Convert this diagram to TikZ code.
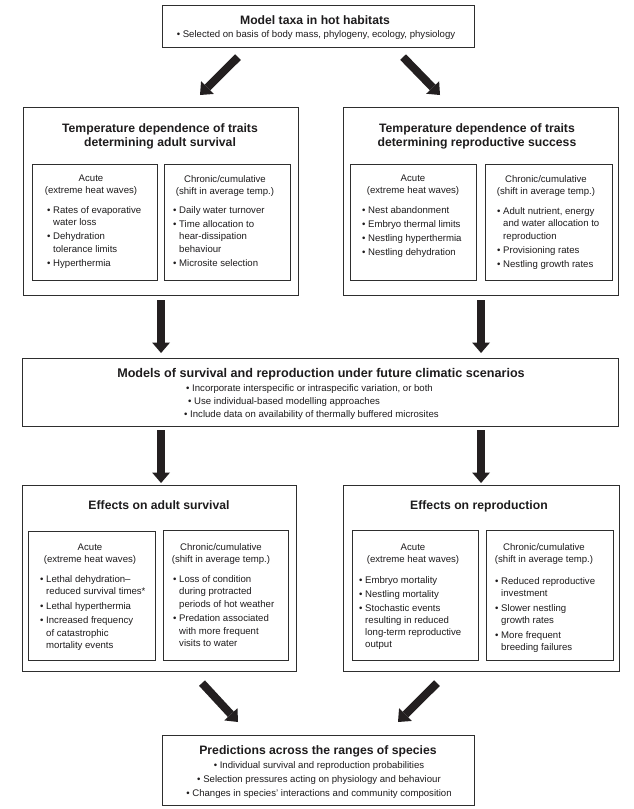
\documentclass[tikz,border=0pt]{standalone}
\usepackage{fontspec}
\setmainfont{Liberation Sans}
\usetikzlibrary{arrows.meta,calc}
\definecolor{boxc}{HTML}{2E2E2E}
\definecolor{arrc}{HTML}{231F20}
\definecolor{txtc}{HTML}{1E1C1D}
\newcommand{\mybul}{\textbullet\ }
\newcommand{\myind}{\hphantom{\textbullet\ }}
\begin{document}
\begin{tikzpicture}[x=1pt,y=-1pt,
  box/.style={draw=boxc, line width=1.1pt, inner sep=0pt, anchor=north west},
  ibox/.style={draw=boxc, line width=1pt, inner sep=0pt, anchor=north west},
  ttl/.style={inner sep=0pt, anchor=north, align=center, text=txtc, font=\bfseries\fontsize{12.2}{14}\selectfont},
  hd/.style={inner sep=0pt, anchor=north, align=center, text=txtc, font=\fontsize{9.6}{12}\selectfont},
  lst/.style={inner sep=0pt, anchor=north west, align=left, text=txtc, font=\fontsize{9.6}{12.5}\selectfont},
  big/.style={draw=arrc, line width=8pt, -{Triangle[length=10.5pt,width=18pt,line width=0pt]}},
]
\useasboundingbox (0,0) rectangle (634,809);
\fill[white] (0,0) rectangle (634,809);

% ---------- boxes ----------
\node[box, minimum width=312pt, minimum height=42pt] (top) at (162,5) {};
\node[box, minimum width=275pt, minimum height=188pt] (adultT) at (23,107) {};
\node[box, minimum width=275pt, minimum height=188pt] (reproT) at (343,107) {};
\node[ibox, minimum width=125pt, minimum height=116pt] (aTa) at (32,164) {};
\node[ibox, minimum width=126pt, minimum height=116pt] (aTc) at (164,164) {};
\node[ibox, minimum width=126pt, minimum height=116pt] (rTa) at (350,164) {};
\node[ibox, minimum width=127pt, minimum height=116pt] (rTc) at (485,164) {};
\node[box, minimum width=596pt, minimum height=68pt] (models) at (22,358) {};
\node[box, minimum width=274pt, minimum height=186pt] (adultE) at (22,485) {};
\node[box, minimum width=276pt, minimum height=186pt] (reproE) at (343,485) {};
\node[ibox, minimum width=127pt, minimum height=129pt] (aEa) at (28,531) {};
\node[ibox, minimum width=125pt, minimum height=130pt] (aEc) at (163,530) {};
\node[ibox, minimum width=126pt, minimum height=130pt] (rEa) at (352,530) {};
\node[ibox, minimum width=127pt, minimum height=130pt] (rEc) at (486,530) {};
\node[box, minimum width=312pt, minimum height=70pt] (pred) at (162,735) {};

% ---------- texts ----------
\node[ttl] (topT) at (315,15.3) {Model taxa in hot habitats};
\node[hd] (topL) at (316,30) {\mybul Selected on basis of body mass, phylogeny, ecology, physiology};

\node[ttl] (adultTT) at (160,123.3) {Temperature dependence of traits\\determining adult survival};
\node[hd] (aTaH) at (91,175) {Acute\\(extreme heat waves)};
\node[lst] (aTaL) at (47,206) {\mybul Rates of evaporative\\\myind water loss\\[1.5pt]\mybul Dehydration\\\myind tolerance limits\\[1.5pt]\mybul Hyperthermia};
\node[hd] (aTcH) at (225,175) {Chronic/cumulative\\(shift in average temp.)};
\node[lst] (aTcL) at (173,206) {\mybul Daily water turnover\\[1.5pt]\mybul Time allocation to\\\myind hear-dissipation\\\myind behaviour\\[2pt]\mybul Microsite selection};

\node[ttl] (reproTT) at (477,123.3) {Temperature dependence of traits\\determining reproductive success};
\node[hd] (rTaH) at (413,175) {Acute\\(extreme heat waves)};
\node[lst] (rTaL) at (362,206) {\mybul Nest abandonment\\[1.5pt]\mybul Embryo thermal limits\\[1.5pt]\mybul Nestling hyperthermia\\[1.5pt]\mybul Nestling dehydration};
\node[hd] (rTcH) at (546,175) {Chronic/cumulative\\(shift in average temp.)};
\node[lst] (rTcL) at (497,207) {\mybul Adult nutrient, energy\\\myind and water allocation to\\\myind reproduction\\[1.5pt]\mybul Provisioning rates\\[1.5pt]\mybul Nestling growth rates};

\node[ttl, font=\bfseries\fontsize{12.6}{14}\selectfont] (modelsT) at (321,368) {Models of survival and reproduction under future climatic scenarios};
\node[lst, font=\fontsize{9.6}{13}\selectfont] (modelsL) at (184,384) {\hspace*{2pt}\mybul Incorporate interspecific or intraspecific variation, or both\\\hspace*{4pt}\mybul Use individual-based modelling approaches\\\mybul Include data on availability of thermally buffered microsites};

\node[ttl] (adultET) at (159,500.3) {Effects on adult survival};
\node[hd] (aEaH) at (90,543.5) {Acute\\(extreme heat waves)};
\node[lst] (aEaL) at (40,575) {\mybul Lethal dehydration--\\\myind reduced survival times*\\[2pt]\mybul Lethal hyperthermia\\[2pt]\mybul Increased frequency\\\myind of catastrophic\\\myind mortality events};
\node[hd] (aEcH) at (221,543.5) {Chronic/cumulative\\(shift in average temp.)};
\node[lst] (aEcL) at (173,575) {\mybul Loss of condition\\\myind during protracted\\\myind periods of hot weather\\[2pt]\mybul Predation associated\\\myind with more frequent\\\myind visits to water};

\node[ttl] (reproET) at (479,500.3) {Effects on reproduction};
\node[hd] (rEaH) at (413,543.5) {Acute\\(extreme heat waves)};
\node[lst, font=\fontsize{9.6}{12}\selectfont] (rEaL) at (359,576) {\mybul Embryo mortality\\[2pt]\mybul Nestling mortality\\[2pt]\mybul Stochastic events\\\myind resulting in reduced\\\myind long-term reproductive\\\myind output};
\node[hd] (rEcH) at (544,543.5) {Chronic/cumulative\\(shift in average temp.)};
\node[lst, font=\fontsize{9.6}{12}\selectfont] (rEcL) at (495,577) {\mybul Reduced reproductive\\\myind investment\\[3pt]\mybul Slower nestling\\\myind growth rates\\[3pt]\mybul More frequent\\\myind breeding failures};

\node[ttl] (predT) at (318,745.3) {Predictions across the ranges of species};
\node[hd, font=\fontsize{9.6}{14}\selectfont] (predL) at (319,761) {\mybul Individual survival and reproduction probabilities\\\mybul Selection pressures acting on physiology and behaviour\\\mybul Changes in species’ interactions and community composition};

% ---------- arrow end points ----------
\coordinate (s1) at ($(top.south west)+(76,9)$);
\coordinate (e1) at ($(adultT.north west)+(177,-12)$);
\coordinate (s2) at ($(top.south east)+(-72,9)$);
\coordinate (e2) at ($(reproT.north west)+(97,-12)$);
\coordinate (s3) at ($(adultT.south)+(0,4)$);
\coordinate (e3) at ($(models.north -| adultT.south)+(0,-5)$);
\coordinate (s4) at ($(reproT.south)+(0,4)$);
\coordinate (e4) at ($(models.north -| reproT.south)+(0,-5)$);
\coordinate (s5) at ($(models.south -| adultT.south)+(0,3)$);
\coordinate (e5) at ($(adultE.north -| adultT.south)+(0,-2)$);
\coordinate (s6) at ($(models.south -| reproT.south)+(0,3)$);
\coordinate (e6) at ($(reproE.north -| reproT.south)+(0,-2)$);
\coordinate (s7) at ($(adultE.south west)+(180,11)$);
\coordinate (e7) at ($(pred.north west)+(76,-13)$);
\coordinate (s8) at ($(reproE.south west)+(94,11)$);
\coordinate (e8) at ($(pred.north west)+(236,-13)$);

\draw[big] (s1) -- (e1);
\draw[big] (s2) -- (e2);
\draw[big] (s3) -- (e3);
\draw[big] (s4) -- (e4);
\draw[big] (s5) -- (e5);
\draw[big] (s6) -- (e6);
\draw[big] (s7) -- (e7);
\draw[big] (s8) -- (e8);
\end{tikzpicture}
\end{document}
